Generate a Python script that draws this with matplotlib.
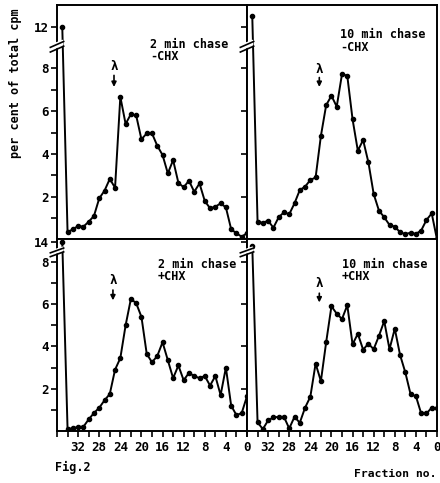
import matplotlib
matplotlib.use("Agg")
import matplotlib.pyplot as plt

# fraction numbers, 35 at the left down to 0 at the right
fractions = list(range(35, -1, -1))

# per cent of total cpm, in the order of `fractions`
min2_minus_chx = [12.0, 0.34, 0.48, 0.63, 0.6, 0.83, 1.1, 1.92, 2.28, 2.83, 2.42, 6.67,
                  5.4, 5.86, 5.8, 4.68, 4.96, 4.96, 4.38, 3.95, 3.09, 3.71, 2.65, 2.44,
                  2.75, 2.23, 2.62, 1.8, 1.46, 1.53, 1.69, 1.5, 0.48, 0.29, 0.13, 0.3]
min10_minus_chx = [12.5, 0.83, 0.78, 0.88, 0.55, 1.04, 1.27, 1.18, 1.69, 2.31, 2.47, 2.78,
                   2.9, 4.84, 6.28, 6.72, 6.21, 7.73, 7.65, 5.62, 4.15, 4.65, 3.61, 2.13,
                   1.35, 1.04, 0.68, 0.6, 0.34, 0.25, 0.32, 0.26, 0.42, 0.91, 1.22, 0.0]
min2_plus_chx = [14.0, 0.1, 0.12, 0.2, 0.2, 0.55, 0.85, 1.1, 1.45, 1.75, 2.9, 3.45,
                 5.0, 6.25, 6.05, 5.4, 3.65, 3.25, 3.55, 4.2, 3.35, 2.5, 3.1, 2.4,
                 2.75, 2.6, 2.5, 2.6, 2.15, 2.6, 1.7, 3.0, 1.2, 0.75, 0.85, 1.65]
min10_plus_chx = [13.8, 0.41, 0.09, 0.5, 0.64, 0.67, 0.67, 0.12, 0.67, 0.39, 1.1, 1.62,
                  3.19, 2.36, 4.2, 5.9, 5.55, 5.3, 5.95, 4.1, 4.6, 3.85, 4.13, 3.87,
                  4.5, 5.2, 3.87, 4.84, 3.6, 2.77, 1.73, 1.65, 0.83, 0.83, 1.1, 1.07]

titles = ["2 min chase\n-CHX", "10 min chase\n-CHX", "2 min chase\n+CHX", "10 min chase\n+CHX"]
lambda_fraction = [25.2, 22.3, 25.4, 22.3]

x_ticks = list(range(36, -1, -2))
x_labels = [32, 28, 24, 20, 16, 12, 8, 4, 0]

MONO = "DejaVu Sans Mono"


def broken(values, cut, label_value, label_pos):
    # values above the axis break are shifted down to sit next to the break
    return [label_pos + (v - label_value) if v > cut else v for v in values]


W, H = 440, 483
fig = plt.figure(figsize=(W / 100, H / 100), dpi=100)


def px_axes(x0, y0, x1, y1):
    return fig.add_axes([x0 / W, 1 - y1 / H, (x1 - x0) / W, (y1 - y0) / H])


# top row: 0..10.96, "12" drawn at 9.93 ; bottom row: 0..9.06, "14" at 8.93
rows = [
    dict(y0=5, y1=239.5, top=10.96, cut=9, lab_val=12, lab_pos=9.93, brk=9.09,
         lam=(8.1, 7.8, 7.0), lam_r=(7.95, 7.7, 7.0)),
    dict(y0=239.5, y1=431, top=9.06, cut=8.5, lab_val=14, lab_pos=8.93, brk=8.52,
         lam=(7.1, 6.8, 6.05), lam_r=(7.0, 6.65, 5.95)),
]
cols = [(57, 247), (247, 437)]
series = [min2_minus_chx, min10_minus_chx, min2_plus_chx, min10_plus_chx]
text_pos = [(0.49, 0.86), (0.49, 0.9), (0.53, 0.905), (0.5, 0.905)]

for r, row in enumerate(rows):
    for c, (x0, x1) in enumerate(cols):
        k = r * 2 + c
        ax = px_axes(x0, row["y0"], x1, row["y1"])
        y = broken(series[k], row["cut"], row["lab_val"], row["lab_pos"])
        ax.plot(fractions, y, color="black", lw=1.4, marker="o", ms=3.0)
        ax.set_xlim(36, 0)
        ax.set_ylim(0, row["top"])
        for s in ax.spines.values():
            s.set_linewidth(1.4)

        # y axis
        if c == 0:
            ax.set_yticks(list(range(1, 9)) + [row["lab_pos"]])
            ax.set_yticklabels(["", "2", "", "4", "", "6", "", "8", str(row["lab_val"])],
                               family=MONO, weight="bold", fontsize=9)
        else:
            ax.set_yticks([2, 4, 6, 8, row["lab_pos"]])
            ax.set_yticklabels([])
        ax.tick_params(axis="y", direction="out", length=4, width=1.2, pad=2)

        # x axis
        if r == 1:
            ax.set_xticks(x_ticks)
            ax.set_xticklabels([str(t) if t in x_labels else "" for t in x_ticks],
                               family=MONO, weight="bold", fontsize=9)
            ax.tick_params(axis="x", direction="out", length=4, width=1.2, pad=3)
        else:
            ax.set_xticks([])

        # axis break marks on the left spine
        b = row["brk"] / row["top"]
        ax.fill([-0.03, 0.03, 0.03, -0.03], [b - 0.02, b + 0.0, b + 0.02, b - 0.0],
                transform=ax.transAxes, color="white", clip_on=False, zorder=5)
        for d in (-0.01, 0.01):
            ax.plot([-0.035, 0.035], [b - 0.02 + d, b + 0.005 + d], transform=ax.transAxes,
                    color="black", lw=1.2, clip_on=False, zorder=6)

        ax.text(text_pos[k][0], text_pos[k][1], titles[k], transform=ax.transAxes,
                family=MONO, weight="bold", fontsize=8.5, va="top", ha="left",
                linespacing=0.95)

        lam = row["lam"] if c == 0 else row["lam_r"]
        f = lambda_fraction[k]
        ax.text(f, lam[0], "λ", family=MONO, weight="bold", fontsize=9,
                ha="center", va="center")
        ax.annotate("", xy=(f, lam[2]), xytext=(f, lam[1]),
                    arrowprops=dict(arrowstyle="-|>", color="black", lw=1.2,
                                    mutation_scale=7))

fig.text(16 / W, 1 - 83 / H, "per cent of total cpm", rotation=90, family=MONO,
         weight="bold", fontsize=8.5, ha="center", va="center")
fig.text(55 / W, 1 - 467 / H, "Fig.2", family=MONO, weight="bold", fontsize=8.5,
         ha="left", va="center")
fig.text(354 / W, 1 - 474 / H, "Fraction no.", family=MONO, weight="bold", fontsize=8.2,
         ha="left", va="center")

fig.savefig("out.png", dpi=100)
